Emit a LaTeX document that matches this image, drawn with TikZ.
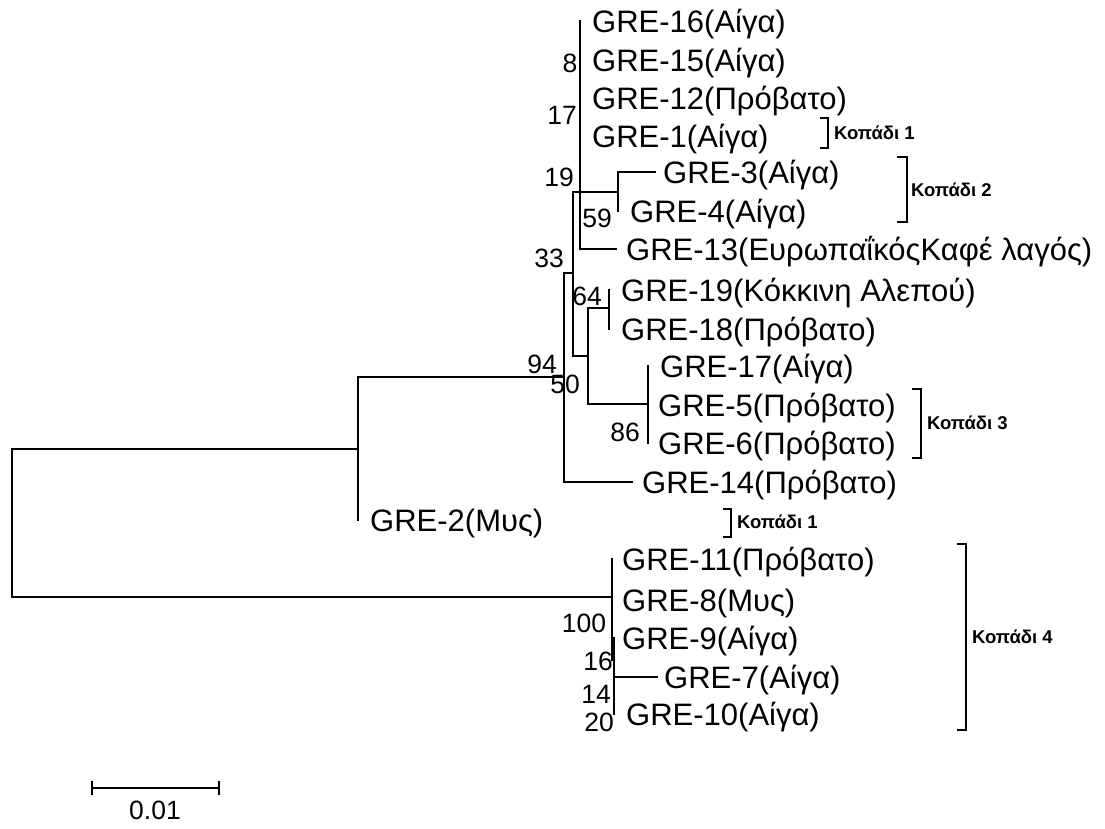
\documentclass[tikz,border=0pt]{standalone}
\usepackage{fontspec}
\setmainfont{Liberation Sans}
\begin{document}
\begin{tikzpicture}[x=1pt,y=-1pt,
  br/.style={line width=1.6pt, line cap=rect},
  leaf/.style={anchor=base west, inner sep=0pt, font=\fontsize{31}{33}\selectfont},
  boot/.style={anchor=center, inner sep=0pt, font=\fontsize{26.5}{28}\selectfont},
  herd/.style={anchor=base west, inner sep=0pt, font=\fontsize{18.5}{20}\selectfont\bfseries},
  bracket/.style={line width=1.6pt}]
\useasboundingbox (0,0) rectangle (1105,828);
% internal nodes
\coordinate (R) at (12,523);
\coordinate (N358) at (358,449);
\coordinate (NA) at (564,377);
\coordinate (NB) at (573,273);
\coordinate (NC) at (580,192);
\coordinate (N34) at (618,192);
\coordinate (ND) at (588,356);
\coordinate (N1918) at (609,308);
\coordinate (N1756) at (648,404);
\coordinate (N4) at (612,597);
\coordinate (NS) at (614,660);
% leaf tips
\coordinate (L16) at (580,21);
\coordinate (L15) at (580,60);
\coordinate (L12) at (580,98);
\coordinate (L1) at (580,136);
\coordinate (L3) at (655,172);
\coordinate (L4) at (618,211);
\coordinate (L13) at (616,249);
\coordinate (L19) at (609,290);
\coordinate (L18) at (609,329);
\coordinate (L17) at (648,366);
\coordinate (L5) at (648,405);
\coordinate (L6) at (648,443);
\coordinate (L14) at (632,482);
\coordinate (L2) at (358,520);
\coordinate (L11) at (612,559);
\coordinate (L8) at (612,600);
\coordinate (L9) at (614,638);
\coordinate (L7) at (657,677);
\coordinate (L10) at (614,714);
% branches
\draw[br] (N358) -| (R);
\draw[br] (N4) -| (R);
\draw[br] (NA) -| (N358);
\draw[br] (L2) -| (N358);
\draw[br] (NB) -| (NA);
\draw[br] (L14) -| (NA);
\draw[br] (NC) -| (NB);
\draw[br] (ND) -| (NB);
\draw[br] (L16) -| (NC);
\draw[br] (L13) -| (NC);
\draw[br] (N34) -| (NC);
\draw[br] (L3) -| (N34);
\draw[br] (L4) -| (N34);
\draw[br] (N1918) -| (ND);
\draw[br] (N1756) -| (ND);
\draw[br] (L19) -| (N1918);
\draw[br] (L18) -| (N1918);
\draw[br] (L17) -| (N1756);
\draw[br] (L6) -| (N1756);
\draw[br] (L11) -| (N4);
\draw[br] (NS) -| (N4);
\draw[br] (L9) -| (NS);
\draw[br] (L7) -| (NS);
\draw[br] (L10) -| (NS);
% leaf labels
\node[leaf] (t16) at ([xshift=12pt,yshift=-11pt]L16) {GRE-16(Αίγα)};
\node[leaf] (t15) at ([xshift=12pt,yshift=-11pt]L15) {GRE-15(Αίγα)};
\node[leaf] (t12) at ([xshift=12pt,yshift=-11pt]L12) {GRE-12(Πρόβατο)};
\node[leaf] (t1) at ([xshift=12pt,yshift=-11pt]L1) {GRE-1(Αίγα)};
\node[leaf] (t3) at ([xshift=8pt,yshift=-11pt]L3) {GRE-3(Αίγα)};
\node[leaf] (t4) at ([xshift=12pt,yshift=-11pt]L4) {GRE-4(Αίγα)};
\node[leaf] (t13) at ([xshift=10pt,yshift=-11pt]L13) {GRE-13(ΕυρωπαΐκόςΚαφέ λαγός)};
\node[leaf] (t19) at ([xshift=12pt,yshift=-11pt]L19) {GRE-19(Κόκκινη Αλεπού)};
\node[leaf] (t18) at ([xshift=12pt,yshift=-11pt]L18) {GRE-18(Πρόβατο)};
\node[leaf] (t17) at ([xshift=12pt,yshift=-11pt]L17) {GRE-17(Αίγα)};
\node[leaf] (t5) at ([xshift=10pt,yshift=-11pt]L5) {GRE-5(Πρόβατο)};
\node[leaf] (t6) at ([xshift=10pt,yshift=-11pt]L6) {GRE-6(Πρόβατο)};
\node[leaf] (t14) at ([xshift=10pt,yshift=-11pt]L14) {GRE-14(Πρόβατο)};
\node[leaf] (t2) at ([xshift=12pt,yshift=-11pt]L2) {GRE-2(Μυς)};
\node[leaf] (t11) at ([xshift=10pt,yshift=-11pt]L11) {GRE-11(Πρόβατο)};
\node[leaf] (t8) at ([xshift=10pt,yshift=-11pt]L8) {GRE-8(Μυς)};
\node[leaf] (t9) at ([xshift=8pt,yshift=-11pt]L9) {GRE-9(Αίγα)};
\node[leaf] (t7) at ([xshift=7pt,yshift=-11pt]L7) {GRE-7(Αίγα)};
\node[leaf] (t10) at ([xshift=12pt,yshift=-11pt]L10) {GRE-10(Αίγα)};
% bootstrap values
\node[boot] (b8) at (570,63) {8};
\node[boot] (b17) at (562,115) {17};
\node[boot] (b19) at (559,177) {19};
\node[boot] (b59) at (597,218) {59};
\node[boot] (b33) at (549,258) {33};
\node[boot] (b64) at (587,296) {64};
\node[boot] (b94) at (542,364) {94};
\node[boot] (b50) at (565,384) {50};
\node[boot] (b86) at (625,432) {86};
\node[boot] (b100) at (584,623) {100};
\node[boot] (b16) at (598,661) {16};
\node[boot] (b14) at (596,694) {14};
\node[boot] (b20) at (599,722) {20};
% herd brackets
\draw[bracket] (820,118) -- (828,118) -- (828,148) -- (820,148);
\node[herd] (h1a) at (834,139.5) {Κοπάδι 1};
\draw[bracket] (897,157) -- (907,157) -- (907,222) -- (897,222);
\node[herd] (h2) at (911,196.5) {Κοπάδι 2};
\draw[bracket] (912,389) -- (921,389) -- (921,458) -- (912,458);
\node[herd] (h3) at (927,429.5) {Κοπάδι 3};
\draw[bracket] (723,509) -- (731,509) -- (731,537) -- (723,537);
\node[herd] (h1b) at (737,528.5) {Κοπάδι 1};
\draw[bracket] (957,544) -- (966,544) -- (966,730) -- (957,730);
\node[herd] (h4) at (972,643.5) {Κοπάδι 4};
% scale bar
\coordinate (sL) at (92,788);
\coordinate (sR) at (219,788);
\draw[br, line cap=butt] (sL) -- (sR);
\draw[br, line cap=butt] ([yshift=-7pt]sL) -- ([yshift=7pt]sL);
\draw[br, line cap=butt] ([yshift=-7pt]sR) -- ([yshift=7pt]sR);
\node[boot] (sc) at (155,810) {0.01};
\end{tikzpicture}
\end{document}
